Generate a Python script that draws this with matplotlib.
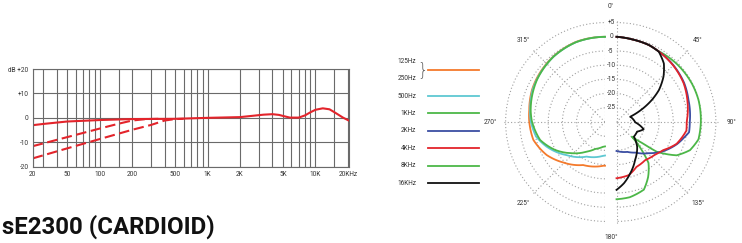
import numpy as np
import matplotlib
matplotlib.use('Agg')
import matplotlib.pyplot as plt
from matplotlib.ticker import NullFormatter
from matplotlib.transforms import offset_copy

W, H = 742, 243

# ---- frequency response data (Hz / dB) ----
freq_ticks = [24, 50, 100, 200, 500, 1000, 2000, 5000, 10000, 20000]
freq_labels = ['20', '50', '100', '200', '500', '1K', '2K', '5K', '10K', '20KHz']
grid_freqs = [30, 40, 50, 60, 70, 80, 90, 100, 150, 200, 300, 400, 500, 600, 700, 800, 900,
              1000, 2000, 3000, 4000, 5000, 6000, 7000, 8000, 9000, 10000, 15000]
db_ticks = [-20, -10, 0, 10, 20]
db_labels = ['-20', '-10', '0', '+10', 'dB +20']

flat_f = [24, 30, 50, 100, 200, 500, 1000, 2000, 2700, 3300, 4000, 4600, 5200, 5800, 7000,
          8000, 9000, 10000, 11700, 13500, 15000, 18000, 20600]
flat_db = [-3.0, -2.5, -1.5, -0.9, -0.5, -0.4, 0.0, 0.3, 0.9, 1.3, 1.5, 1.2, 0.6, 0.1, 0.1,
           1.0, 2.3, 3.3, 3.9, 3.5, 2.3, 0.1, -1.2]
cut1_f = [24, 50, 100, 150, 200, 270, 350]
cut1_db = [-11.6, -7.9, -4.4, -2.4, -1.1, -0.5, -0.4]
cut2_f = [24, 50, 100, 200, 300, 400, 500, 600]
cut2_db = [-16.6, -12.5, -8.7, -4.9, -2.9, -1.1, -0.5, -0.4]

# ---- polar data (degrees clockwise from front / dB) ----
hz125_ang = [180, 182, 207, 226, 240.5, 256, 271, 279, 294, 302, 322, 340, 360]
hz125_db = [-14.6, -14.6, -13.0, -9.5, -6.4, -4.0, -3.3, -3.0, -1.9, -1.5, -0.6, 0.0, 0.0]
hz500_ang = [180, 183, 208, 229, 247, 258, 271, 279, 294, 302, 322, 340, 360]
hz500_db = [-18.2, -18.1, -16.2, -12.2, -7.7, -5.2, -3.8, -3.3, -2.1, -1.7, -0.7, -0.1, 0.0]
k1_ang = [180, 184, 200, 212, 227, 241, 254.5, 271, 279, 294, 302, 322, 340, 360]
k1_db = [-21.4, -21.3, -19.9, -17.7, -13.9, -9.8, -6.3, -4.2, -3.5, -2.4, -1.8, -0.7, -0.1, 0.0]

k2_ang = [0, 11, 23, 30, 45, 60, 73, 90, 98, 103, 110, 123, 134, 148, 160, 180]
k2_db = [0, -0.4, -0.6, -1.0, -1.7, -2.5, -3.5, -4.2, -4.2, -5.6, -7.3, -10.9, -14.2, -17.3, -18.8, -19.8]
k4_ang = [0, 11, 23, 30, 45, 60, 73, 90, 97, 110, 121, 130, 143, 156, 167, 180]
k4_db = [0, -0.4, -0.6, -1.0, -1.8, -2.7, -3.9, -5.3, -5.2, -7.5, -10.8, -12.2, -13.2, -12.7, -10.8, -10.2]
k8_ang = [0, 11, 23, 30, 47, 63, 75, 90, 102, 111, 119, 126.5, 129, 133.5, 137, 142, 150, 158, 170, 180]
k8_db = [0, -0.4, -0.6, -1.0, -0.5, -0.2, -0.1, -0.3, -0.5, -2.3, -5.8, -12.4, -18.0, -22.5,
         -18.0, -11.7, -7.7, -4.3, -3.1, -2.8]
k16_ang = [0, 11, 23, 31, 39, 46, 53, 58, 65, 69, 91, 105, 115, 130, 140, 154, 165, 173, 180]
k16_db = [0, -0.4, -0.6, -1.1, -3.5, -7.0, -11.3, -15.3, -21.4, -24.8, -23.4, -20.1, -22.0,
          -22.0, -18.7, -15.1, -11.3, -8.3, -6.1]

ring_db = [5, 0, -5, -10, -15, -20, -25]
ring_labels = ['+5', '0', '-5', '-10', '-15', '-20', '-25']

legend_labels = ['500Hz', '1KHz', '2KHz', '4KHz', '8KHz', '16KHz']

RED = '#e3242b'
ORANGE = '#f47a2c'
CYAN = '#5ec8d2'
GREEN = '#4cb748'
BLUE = '#3b4ea2'
BLACK = '#111111'
TXT = '#333333'
FS = 4.7

plt.rcParams['font.family'] = ['Roboto', 'DejaVu Sans']

fig = plt.figure(figsize=(W / 100, H / 100), dpi=100)


def px_axes(left, top, width, height, **kw):
    return fig.add_axes([left / W, 1 - (top + height) / H, width / W, height / H], **kw)


# ---- frequency response ----
ax = px_axes(32.7, 69, 316.6, 97.7)
ax.set_xscale('log')
ax.set_xlim(24, 20600)
ax.set_ylim(-20, 20)
ax.set_xticks(freq_ticks)
ax.set_xticklabels(freq_labels)
ax.set_xticks(grid_freqs, minor=True)
ax.xaxis.set_minor_formatter(NullFormatter())
ax.set_yticks(db_ticks)
ax.set_yticklabels(db_labels)
ax.tick_params(which='both', length=0, labelsize=FS, colors=TXT, pad=3)
ax.grid(True, which='both', color='#6a6a6a', linewidth=0.8)
ax.set_axisbelow(True)
for s in ax.spines.values():
    s.set_color('#6a6a6a')
    s.set_linewidth(0.8)
ax.plot(flat_f, flat_db, color=RED, lw=1.5, solid_capstyle='butt')
ax.plot(cut1_f, cut1_db, color=RED, lw=1.5, dashes=(5, 2.2))
ax.plot(cut2_f, cut2_db, color=RED, lw=1.5, dashes=(5, 2.2))

# ---- legend ----
axl = px_axes(380, 52.6, 110, 147.8)
axl.set_xlim(0, 110)
axl.set_ylim(7.5, -1)
axl.axis('off')
rows = [0] + [i + 1.5 for i in range(len(legend_labels))]
colors = [ORANGE, CYAN, GREEN, BLUE, RED, GREEN, BLACK]
for y, c in zip(rows, colors):
    axl.plot([48, 99], [y, y], color=c, lw=1.3)
axl.text(36, -0.48, '125Hz', ha='right', va='center', fontsize=FS, color=TXT)
axl.text(36, 0.5, '250Hz', ha='right', va='center', fontsize=FS, color=TXT)
axl.text(42, 0.02, '}', ha='center', va='center', fontsize=12, color='#555555',
         family='DejaVu Sans', fontweight='light')
for y, lab in zip(rows[1:], legend_labels):
    axl.text(36, y, lab, ha='right', va='center', fontsize=FS, color=TXT)

# ---- polar halves ----
R = 36 * 2.84
grid_kw = dict(color='#a0a0a0', linestyle=(0, (1, 2)), linewidth=0.8)


def half_polar(cx, frac, tmin, tmax):
    a = px_axes(cx - frac * 2 * R, 122 - R, 2 * R, 2 * R, projection='polar')
    a.set_theta_zero_location('N')
    a.set_theta_direction(-1)
    a.set_thetamin(tmin)
    a.set_thetamax(tmax)
    a.set_rlim(-30, 6)
    a.set_xticks(np.radians(np.arange(tmin, tmax + 1, 45)))
    a.set_xticklabels([])
    a.set_yticks(ring_db)
    a.set_yticklabels([])
    a.tick_params(length=0)
    a.grid(True, **grid_kw)
    a.patch.set_alpha(0)
    # polar start/end spines get switched back on at draw time, so blank them instead
    for s in a.spines.values():
        s.set_edgecolor('none')
        s.set_linewidth(0)
    return a


axr = half_polar(616.5, 0.25, 0, 180)
axp = half_polar(605, 0.75, 180, 360)

polar_lines = []
for ang, db, c in [(hz125_ang, hz125_db, ORANGE), (hz500_ang, hz500_db, CYAN), (k1_ang, k1_db, GREEN)]:
    polar_lines += axp.plot(np.radians(ang), db, color=c, lw=1.3, clip_on=False)
for ang, db, c in [(k8_ang, k8_db, GREEN), (k2_ang, k2_db, BLUE), (k4_ang, k4_db, RED),
                   (k16_ang, k16_db, BLACK)]:
    polar_lines += axr.plot(np.radians(ang), db, color=c, lw=1.3, clip_on=False)
# let the polar transform follow the curve between readings instead of straight chords
for ln in polar_lines:
    ln.get_path()._interpolation_steps = 30

mid = offset_copy(axr.transData, fig=fig, x=-5.5, y=0, units='dots')
for r, lab in zip(ring_db, ring_labels):
    axr.text(0, r, lab, transform=mid, ha='center', va='center', fontsize=FS, color=TXT,
             bbox=dict(facecolor='white', edgecolor='none', pad=0.3))
axr.text(0, 10.5, '0°', transform=mid, ha='center', va='center', fontsize=FS, color=TXT)
axr.text(np.pi, 10.5, '180°', transform=mid, ha='center', va='center', fontsize=FS, color=TXT)
for a in [45, 90, 135]:
    axr.text(np.radians(a), 10.5, f'{a}°', ha='center', va='center', fontsize=FS, color=TXT,
             clip_on=False)
for a in [225, 270, 315]:
    axp.text(np.radians(a), 10.5, f'{a}°', ha='center', va='center', fontsize=FS, color=TXT,
             clip_on=False)

# ---- title ----
fig.text(2 / W, 1 - 234 / H, 'sE2300 (CARDIOID)', fontsize=17.3, fontweight='bold',
         color='#111111', va='baseline', ha='left')

fig.savefig('out.png', dpi=100, facecolor='white')
